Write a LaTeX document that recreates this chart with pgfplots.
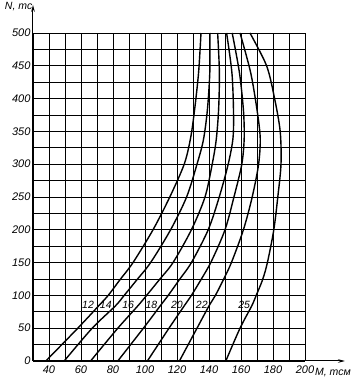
\documentclass[border=0pt]{standalone}
\usepackage{pgfplots}
\pgfplotsset{compat=1.18}
\usepackage{fontspec}
\setmainfont{Liberation Sans}
\usetikzlibrary{arrows.meta}
\pgfplotsset{crv/.style={black, line width=1.4pt, smooth, mark=none}}
\begin{document}
\begin{tikzpicture}
\path[use as bounding box] (-33pt,-22pt) rectangle (330pt,361pt);
\begin{axis}[
  at={(0pt,0pt)}, anchor=south west,
  scale only axis, width=272pt, height=328pt,
  xmin=30, xmax=200, ymin=0, ymax=500,
  xtick={40,60,...,200}, minor xtick={30,50,...,190},
  ytick={0,50,...,500}, minor ytick={25,75,...,475},
  grid=both,
  grid style={black, line width=0.9pt},
  major grid style={black, line width=0.9pt},
  minor grid style={black, line width=0.9pt},
  major tick length=0pt, minor tick length=0pt,
  axis line style={line width=1pt},
  tick label style={font=\fontsize{11}{12}\selectfont\itshape},
  /pgf/number format/assume math mode=true,
  xticklabel style={yshift=-1.5pt},
  yticklabel style={xshift=1pt},
  clip=false,
]
% 12
\addplot[crv] coordinates {(38,0) (58,50) (71,84) (77,100) (84.4,124) (92.5,150) (105,200) (115.5,250) (124.5,300) (128.5,340) (131,383) (133.5,440) (135,500)};
% 14
\addplot[crv] coordinates {(49.5,0) (67,50) (81.5,84) (87,100) (95,124) (103.5,150) (116,200) (126,250) (132.5,300) (136.5,337) (139,383) (140.5,440) (140.5,500)};
% 16
\addplot[crv] coordinates {(66,0) (83,50) (95.5,84) (101,100) (109,124) (117.5,150) (129,200) (137.5,250) (142,300) (144.5,337) (146,383) (146.5,440) (145.4,500)};
% 18
\addplot[crv] coordinates {(83,0) (99,50) (109.5,84) (114.5,100) (121.5,124) (129,150) (139.5,200) (146.4,250) (152,300) (155,340) (155.3,383) (154.3,440) (151,500)};
% 20
\addplot[crv] coordinates {(101.5,0) (115,50) (124.5,84) (129,100) (135,124) (141.5,152) (150,200) (155.6,250) (160.5,300) (162,340) (161.5,383) (159,440) (154.5,500)};
% 22
\addplot[crv] coordinates {(121.5,0) (132.5,50) (140,84) (144,100) (149,124) (154,150) (161.5,200) (167,250) (171,300) (172,340) (170,383) (166,440) (159.4,500)};
% 25
\addplot[crv] coordinates {(150.5,0) (159.4,50) (166.7,84) (169.5,100) (173.5,124) (176.5,150) (180.5,200) (183,250) (185,300) (184.5,350) (181,400) (176,450) (165.6,500)};
\draw[line width=1pt, -{Stealth[length=7pt,width=3.5pt]}] (axis cs:30,500) -- (axis cs:30,543);
\draw[line width=1pt, -{Stealth[length=7pt,width=3.5pt]}] (axis cs:200,0) -- (axis cs:225,0);
\node[font=\fontsize{10.5}{11}\selectfont\itshape] at (axis cs:21,541) {N, тс};
\node[font=\fontsize{10.5}{11}\selectfont\itshape] at (axis cs:217.5,-17) {M, тсм};
\begin{scope}[every node/.style={font=\fontsize{10.5}{11}\selectfont\itshape, inner sep=0.5pt}]
\node at (axis cs:64.4,85) {12};
\node at (axis cs:75.5,85) {14};
\node at (axis cs:89.5,85) {16};
\node at (axis cs:104,85) {18};
\node at (axis cs:120,85) {20};
\node at (axis cs:135.5,85) {22};
\node at (axis cs:162,85) {25};
\end{scope}
\end{axis}
\end{tikzpicture}
\end{document}
